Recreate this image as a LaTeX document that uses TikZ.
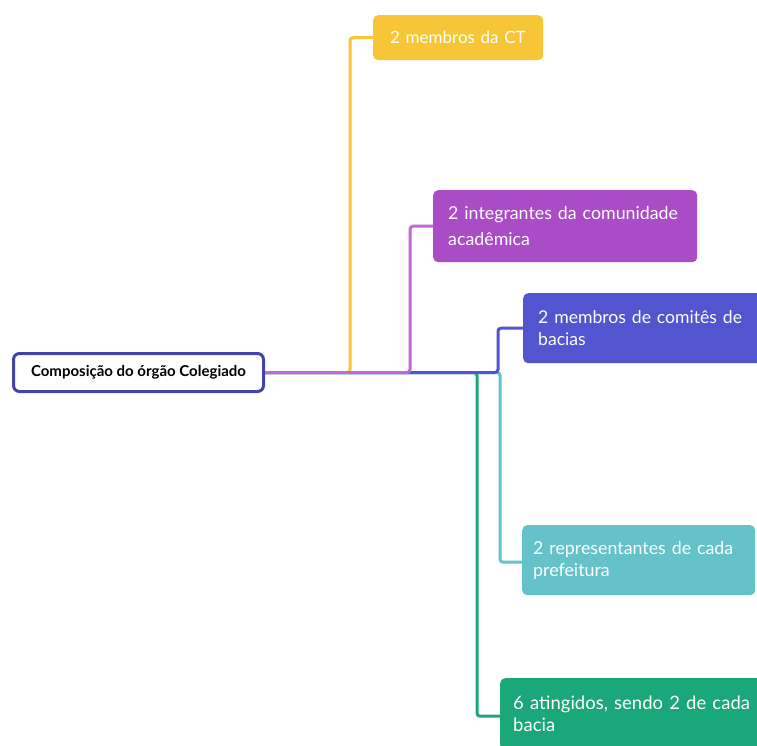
\documentclass[tikz,border=0pt]{standalone}
\usepackage{fontspec}
\setmainfont{Lato}
\definecolor{cyel}{HTML}{F6C636}
\definecolor{cpur}{HTML}{A94CC6}
\definecolor{cpurl}{HTML}{C267D6}
\definecolor{cblu}{HTML}{5255CF}
\definecolor{cteal}{HTML}{64C2CB}
\definecolor{cgrn}{HTML}{1AA77A}
\definecolor{croot}{HTML}{4343A6}
\begin{document}
\begin{tikzpicture}[x=1pt,y=-1pt,
  box/.style={anchor=north west,rounded corners=5pt,text=white,
    align=left,inner ysep=0pt},
  conn/.style={line width=3pt,rounded corners=3pt}]
\useasboundingbox (0,0) rectangle (757,745);
\fill[white] (0,0) rectangle (757,745);
\node[draw=croot,line width=3pt,rounded corners=6pt,fill=white,minimum width=250pt,minimum height=38pt,
  font=\bfseries\fontsize{15}{18}\selectfont] (root) at (138.5,372.5) {Composição do órgão Colegiado};
\node[box,fill=cyel,minimum width=170pt,minimum height=45pt,text width=136pt,inner xsep=17pt,
  font=\fontsize{17}{22}\selectfont] (b1) at (373,15) {\mbox{2 membros da CT}};
\node[box,fill=cpur,minimum width=264pt,minimum height=72pt,text width=234pt,inner xsep=15pt,
  font=\fontsize{17.8}{26}\selectfont] (b2) at (433,190) {\mbox{2 integrantes da comunidade}\\\mbox{acadêmica}};
\node[box,fill=cblu,minimum width=240pt,minimum height=70pt,text width=210pt,inner xsep=15pt,
  font=\fontsize{17.6}{22}\selectfont] (b3) at (523,293) {\mbox{2 membros de comitês de}\\\mbox{bacias}};
\node[box,fill=cteal,minimum width=233pt,minimum height=70pt,text width=211pt,inner xsep=11pt,
  font=\fontsize{17.8}{22}\selectfont] (b4) at (522,525) {\mbox{2 representantes de cada}\\\mbox{prefeitura}};
\node[box,fill=cgrn,minimum width=262pt,minimum height=72pt,text width=236pt,inner xsep=13pt,
  font=\fontsize{18.5}{22}\selectfont] (b5) at (500,678) {\mbox{6 atingidos, sendo 2 de cada}\\\mbox{bacia}};
\coordinate (j1) at (350,372.5);
\coordinate (j2) at (410,372.5);
\coordinate (j3) at (498,372.5);
\coordinate (j4) at (500,372.5);
\coordinate (j5) at (477,372.5);
\draw[conn,cgrn] (root.east) -- (j5) |- ([yshift=-2pt]b5.west);
\draw[conn,cteal] (root.east) -- (j4) |- ([yshift=-2pt]b4.west);
\draw[conn,cblu] (root.east) -- (j3) |- (b3.west);
\draw[conn,cyel] (root.east) -- (j1) |- (b1.west);
\draw[conn,cpurl] (root.east) -- (j2) |- (b2.west);
\end{tikzpicture}
\end{document}
